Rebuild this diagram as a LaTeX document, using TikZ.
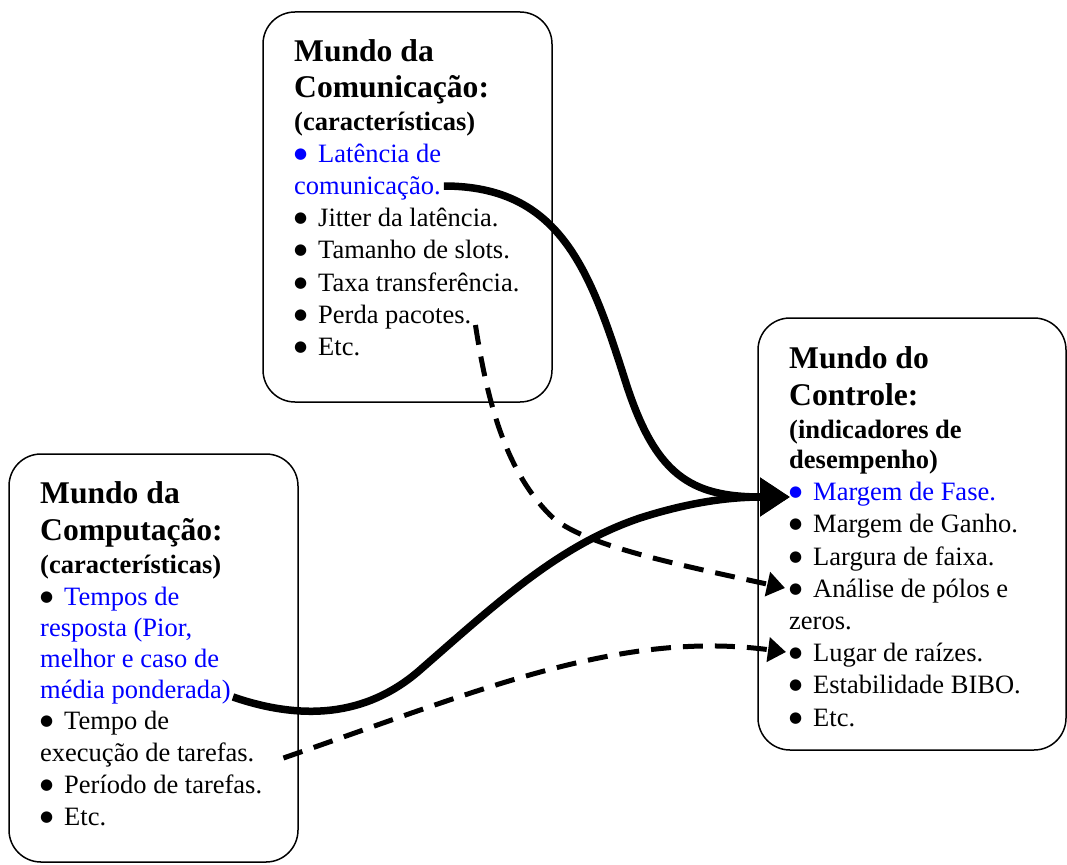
\documentclass[tikz,border=0pt]{standalone}
\usepackage{fontspec}
\setmainfont{Liberation Serif}
\newfontfamily\symfont{DejaVu Sans}
\usetikzlibrary{arrows.meta,calc}
\definecolor{txtblue}{RGB}{0,0,255}
\tikzset{
  box/.style={draw, line width=1.5pt, rounded corners=32pt, inner sep=0pt},
  ttl/.style={anchor=base west, inner sep=0pt, font=\fontsize{31.6}{36}\selectfont\bfseries},
  sub/.style={anchor=base west, inner sep=0pt, font=\fontsize{26.5}{32}\selectfont\bfseries},
  body/.style={anchor=base west, inner sep=0pt, font=\fontsize{26.5}{32}\selectfont},
  strong/.style={line width=7.5pt, -{Triangle[length=30pt,width=37pt]}},
  weak/.style={line width=5pt, dash pattern=on 20pt off 12pt, -{Triangle[length=18pt,width=24pt]}}
}
\newcommand{\bul}{\makebox[24pt][l]{\smash{\raisebox{3.8pt}{\symfont\fontsize{15}{16}\selectfont ●}}}}
\begin{document}
\begin{tikzpicture}[x=1pt,y=-1pt]
\useasboundingbox (0,0) rectangle (1067,864);
% boxes
\node[box, minimum width=289pt, minimum height=390pt] (comm) at (407.5,207) {};
\node[box, minimum width=289pt, minimum height=408pt] (comp) at (153.5,658) {};
\node[box, minimum width=308pt, minimum height=432pt] (ctrl) at (912,534) {};
% Comunicacao
\node[ttl] (c1) at (294,62) {Mundo da};
\node[ttl] (c2) at (294,98) {Comunicação:};
\node[sub] (c3) at (294,130) {(características)};
\node[body, text=txtblue] (c4) at (294,162) {\bul Latência de};
\node[body, text=txtblue] (c5) at (294,194) {comunicação.};
\node[body] (c6) at (294,226) {\bul Jitter da latência.};
\node[body] (c7) at (294,258) {\bul Tamanho de slots.};
\node[body] (c8) at (294,291) {\bul Taxa transferência.};
\node[body] (c9) at (294,323) {\bul Perda pacotes.};
\node[body] (c10) at (294,355) {\bul Etc.};
% Computacao
\node[ttl] (p1) at (40,503) {Mundo da};
\node[ttl] (p2) at (40,540) {Computação:};
\node[sub] (p3) at (40,573) {(características)};
\node[body] (p4) at (40,605) {\bul\textcolor{txtblue}{Tempos de}};
\node[body, text=txtblue] (p5) at (40,636) {resposta (Pior,};
\node[body, text=txtblue] (p6) at (40,667) {melhor e caso de};
\node[body, text=txtblue] (p7) at (40,698) {média ponderada)};
\node[body] (p8) at (40,729) {\bul Tempo de};
\node[body] (p9) at (40,761) {execução de tarefas.};
\node[body] (p10) at (40,793) {\bul Período de tarefas.};
\node[body] (p11) at (40,825) {\bul Etc.};
% Controle
\node[ttl] (k1) at (789,368) {Mundo do};
\node[ttl] (k2) at (789,405) {Controle:};
\node[sub] (k3) at (789,438) {(indicadores de};
\node[sub] (k4) at (789,468) {desempenho)};
\node[body, text=txtblue] (k5) at (789,500) {\bul Margem de Fase.};
\node[body] (k6) at (789,532) {\bul Margem de Ganho.};
\node[body] (k7) at (789,565) {\bul Largura de faixa.};
\node[body] (k8) at (789,597) {\bul Análise de pólos e};
\node[body] (k9) at (789,629) {zeros.};
\node[body] (k10) at (789,661) {\bul Lugar de raízes.};
\node[body] (k11) at (789,693) {\bul Estabilidade BIBO.};
\node[body] (k12) at (789,726) {\bul Etc.};
% connector ends
\coordinate (s1) at ($(c5.base east)+(3,-8)$);
\coordinate (s2) at ($(p7.base east)+(2,-1)$);
\coordinate (tf) at ($(k5.base west)+(1,-3)$);
\coordinate (d1) at ($(c9.base east)+(4,2)$);
\coordinate (ta) at ($(k8.base west)+(-4,-9)$);
\coordinate (d2) at ($(p9.base east)+(29,-3)$);
\coordinate (tl) at ($(k10.base west)+(-3,-9)$);
% connectors
\draw[strong] (s1) .. controls (560,186) and (590,270) .. (625,380)
  .. controls (655,475) and (690,497) .. (tf);
\draw[strong] (s2) .. controls (300,720) and (365,718) .. (420,670)
  .. controls (500,600) and (560,545) .. (640,518)
  .. controls (690,502) and (730,497) .. (tf);
\draw[weak] (d1) .. controls (487,400) and (505,470) .. (550,515)
  .. controls (580,545) and (680,565) .. (ta);
\draw[weak] (d2) .. controls (480,690) and (620,630) .. (tl);
\end{tikzpicture}
\end{document}
